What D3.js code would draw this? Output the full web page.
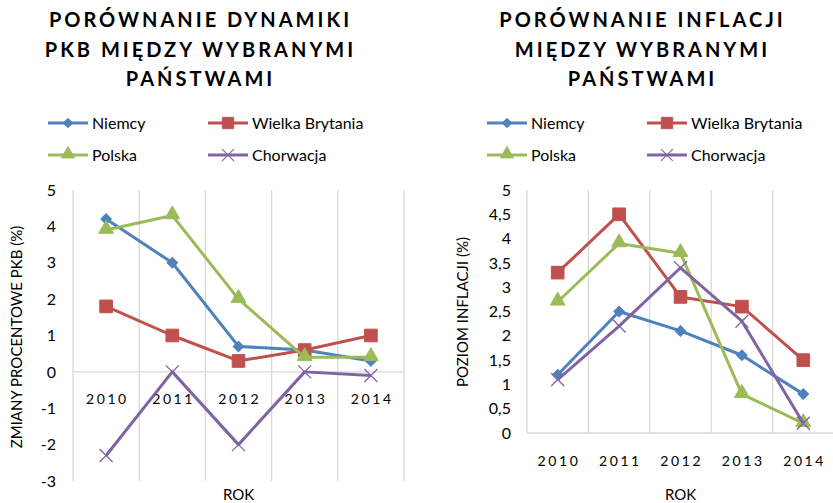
<!DOCTYPE html>
<html>
<head>
<meta charset="utf-8">
<script src="https://cdn.jsdelivr.net/npm/d3@7"></script>
<style>
  html, body { margin: 0; padding: 0; background: #fff; }
  svg { display: block; }
  text { font-family: Lato, "Open Sans", sans-serif; fill: #000; }
</style>
</head>
<body>
<svg id="chart" width="833" height="503"></svg>
<script>
// ---------- DATA ----------
const years = ["2010", "2011", "2012", "2013", "2014"];
const seriesNames = ["Niemcy", "Wielka Brytania", "Polska", "Chorwacja"];

const gdpNiemcy    = [4.2, 3.0, 0.7, 0.6, 0.3];
const gdpWB        = [1.8, 1.0, 0.3, 0.6, 1.0];
const gdpPolska    = [3.9, 4.3, 2.0, 0.4, 0.4];
const gdpChorwacja = [-2.3, 0.0, -2.0, 0.0, -0.1];

const infNiemcy    = [1.2, 2.5, 2.1, 1.6, 0.8];
const infWB        = [3.3, 4.5, 2.8, 2.6, 1.5];
const infPolska    = [2.7, 3.9, 3.7, 0.8, 0.2];
const infChorwacja = [1.1, 2.2, 3.4, 2.3, 0.2];

const gdpTicks = [-3, -2, -1, 0, 1, 2, 3, 4, 5];
const infTicks = [0, 0.5, 1, 1.5, 2, 2.5, 3, 3.5, 4, 4.5, 5];

const colors = ["#4F81BD", "#C0504D", "#9BBB59", "#8064A2"];
const markers = ["diamond", "square", "triangle", "x"];

// ---------- HELPERS ----------
const svg = d3.select("#chart");

function marker(g, type, color) {
  if (type === "diamond") {
    g.append("path").attr("d", d3.symbol(d3.symbolSquare, 56)())
      .attr("transform", "rotate(45)").attr("fill", color).attr("stroke", color).attr("stroke-width", 1);
  } else if (type === "square") {
    g.append("path").attr("d", d3.symbol(d3.symbolSquare, 160)())
      .attr("fill", color).attr("stroke", color).attr("stroke-width", 1);
  } else if (type === "triangle") {
    g.append("path").attr("d", d3.symbol(d3.symbolTriangle, 95)())
      .attr("transform", "translate(0,-1)")
      .attr("fill", color).attr("stroke", color).attr("stroke-width", 1);
  } else {
    const s = 6.5;
    g.append("path").attr("d", `M${-s},${-s}L${s},${s}M${-s},${s}L${s},${-s}`)
      .attr("fill", "none").attr("stroke", color).attr("stroke-width", 1.3);
  }
}

function drawChart(cfg) {
  const g = svg.append("g");
  const x = d3.scaleBand().domain(years).range([cfg.left, cfg.right]).padding(0);
  const y = d3.scaleLinear().domain(cfg.domain).range([cfg.bottom, cfg.top]);

  // vertical gridlines at category boundaries
  const bounds = years.map(v => x(v)).concat([x(years[years.length - 1]) + x.bandwidth()]);
  g.selectAll("line.grid").data(bounds).join("line")
    .attr("x1", d => d).attr("x2", d => d)
    .attr("y1", y(cfg.domain[1])).attr("y2", y(cfg.domain[0]))
    .attr("stroke", "#D9D9D9").attr("stroke-width", 1.3);

  // horizontal axis line at zero
  g.append("line")
    .attr("x1", cfg.left).attr("x2", cfg.right)
    .attr("y1", y(0)).attr("y2", y(0))
    .attr("stroke", "#D9D9D9").attr("stroke-width", 1.3);

  // y ticks
  const yAxis = d3.axisLeft(y).tickValues(cfg.ticks).tickSize(0).tickPadding(0)
    .tickFormat(d => String(d).replace(".", ","));
  const ya = g.append("g").attr("transform", `translate(${cfg.yLabelX},0)`).call(yAxis);
  ya.select(".domain").remove();
  ya.selectAll("text").attr("font-size", 16).attr("font-family", "Lato, sans-serif").attr("fill", "#000");

  // x labels
  const xAxis = d3.axisBottom(x).tickSize(0).tickPadding(0);
  const xa = g.append("g").attr("transform", `translate(0,${cfg.xLabelY})`).call(xAxis);
  xa.select(".domain").remove();
  xa.selectAll("text").attr("font-size", 14).attr("font-family", "Lato, sans-serif")
    .attr("fill", "#000").attr("letter-spacing", "2.6px").attr("dy", "0.35em").attr("dx", "1.3px");

  // axis titles
  g.append("text").attr("x", (cfg.left + cfg.right) / 2).attr("y", 495)
    .attr("text-anchor", "middle").attr("dy", "0.35em").attr("font-size", 15).text("ROK");
  g.append("text")
    .attr("transform", `translate(${cfg.yTitleX},${cfg.yTitleY}) rotate(-90)`)
    .attr("text-anchor", "middle").attr("dy", "0.35em").attr("font-size", 15).text(cfg.yTitle);

  // series
  const line = d3.line().x((d, i) => x(years[i]) + x.bandwidth() / 2).y(d => y(d));
  cfg.series.forEach((vals, si) => {
    g.append("path").datum(vals).attr("d", line)
      .attr("fill", "none").attr("stroke", colors[si]).attr("stroke-width", 3)
      .attr("stroke-linejoin", "round");
    vals.forEach((v, i) => {
      const mg = g.append("g")
        .attr("transform", `translate(${x(years[i]) + x.bandwidth() / 2},${y(v)})`);
      marker(mg, markers[si], colors[si]);
    });
  });

  // title
  const t = g.append("text").attr("text-anchor", "middle").attr("font-size", 20)
    .attr("font-weight", "bold").attr("letter-spacing", "3px");
  cfg.title.forEach((ln, i) => {
    t.append("tspan").attr("x", cfg.titleX + 1.5).attr("y", 20 + i * 29.5)
      .attr("dy", "0.35em").text(ln);
  });

  // legend
  const legPos = [[0, 0], [1, 0], [0, 1], [1, 1]];
  seriesNames.forEach((name, si) => {
    const lx = cfg.legendX + legPos[si][0] * 160;
    const ly = 123 + legPos[si][1] * 32;
    const lg = g.append("g");
    lg.append("line").attr("x1", lx).attr("x2", lx + 40).attr("y1", ly).attr("y2", ly)
      .attr("stroke", colors[si]).attr("stroke-width", 3);
    const mg = lg.append("g").attr("transform", `translate(${lx + 20},${ly}) scale(0.9)`);
    marker(mg, markers[si], colors[si]);
    lg.append("text").attr("x", lx + 44).attr("y", ly).attr("dy", "0.35em")
      .attr("font-size", 16).text(name);
  });
}

drawChart({
  left: 73, right: 404, top: 190, bottom: 481,
  domain: [-3, 5], ticks: gdpTicks,
  yLabelX: 56, xLabelY: 399,
  yTitle: "ZMIANY PROCENTOWE PKB (%)", yTitleX: 17, yTitleY: 337,
  series: [gdpNiemcy, gdpWB, gdpPolska, gdpChorwacja],
  title: ["PORÓWNANIE DYNAMIKI", "PKB MIĘDZY WYBRANYMI", "PAŃSTWAMI"], titleX: 199,
  legendX: 48
});

drawChart({
  left: 527, right: 834, top: 190, bottom: 433,
  domain: [0, 5], ticks: infTicks,
  yLabelX: 511, xLabelY: 461,
  yTitle: "POZIOM INFLACJI (%)", yTitleX: 463, yTitleY: 312,
  series: [infNiemcy, infWB, infPolska, infChorwacja],
  title: ["PORÓWNANIE INFLACJI", "MIĘDZY WYBRANYMI", "PAŃSTWAMI"], titleX: 641,
  legendX: 487
});
</script>
</body>
</html>
